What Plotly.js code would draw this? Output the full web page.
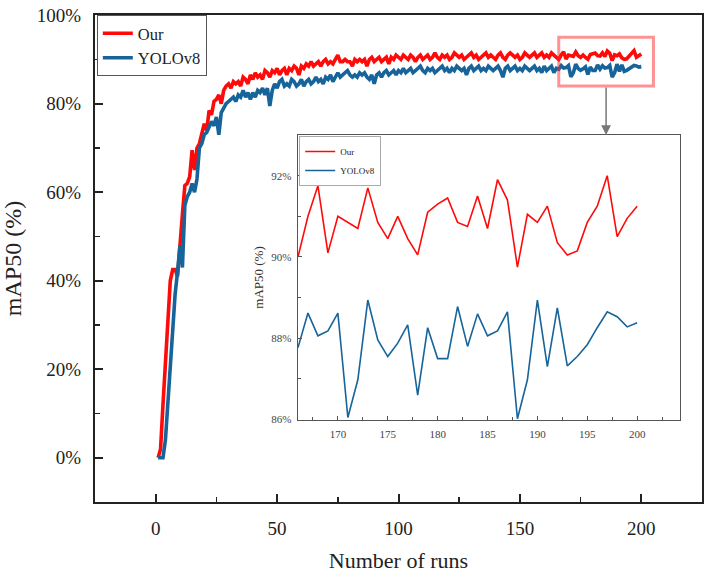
<!DOCTYPE html>
<html>
<head>
<meta charset="utf-8">
<script src="https://cdn.plot.ly/plotly-3.0.1.min.js"></script>
<style>
  html, body { margin: 0; padding: 0; background: #fff; }
  #chart { width: 710px; height: 573px; }
</style>
</head>
<body>
<div id="chart"></div>
<script>
// mAP50 (%) per training run, runs 1..200
const ourMap = [
  0, 2, 12, 22, 31, 40, 42.5, 42.5, 41, 49,
  55, 61.5, 62, 63.5, 69.5, 65, 70, 71, 73, 75.5,
  74, 78.5, 77.5, 80.5, 81, 82, 80, 83, 84, 84.5,
  83.5, 85, 84.5, 85, 84, 86, 85.5, 84.5, 86.5, 85.5,
  87, 86, 86.5, 85.5, 87.5, 87, 86, 87.5, 87, 88,
  86.5, 87.5, 88, 86.5, 88, 87.5, 88.5, 88, 86.5, 88.5,
  88, 89, 88.5, 89.5, 88.5, 89, 89.5, 88.5, 89.5, 90,
  89, 89.5, 89, 90, 91, 89.5, 89.5, 90, 89.5, 89.5,
  88.5, 90, 89.5, 90, 89.5, 90, 88.5, 90, 90.5, 89.5,
  90, 90.5, 89.5, 90, 90.5, 89, 90.5, 90, 91, 90.5,
  90, 91, 90.5, 90, 91, 90.5, 89.5, 90.5, 91, 90,
  90.5, 91, 90, 90.5, 91.5, 90.5, 90, 91, 90.5, 91,
  90, 90.5, 91.5, 91, 90.5, 91, 90, 90.5, 91, 91.5,
  90.5, 91, 90, 90.5, 91, 91.5, 90.5, 91, 90.5, 90,
  91, 91.5, 90.5, 90, 91, 91.5, 91, 90.5, 91, 90,
  90.5, 91.5, 91, 90.5, 91, 91.5, 90.5, 91, 91.5, 90.5,
  91, 90.5, 91.5, 91, 90.5,
  90.0, 91.0, 91.75, 90.1, 91.0, 90.85, 90.7, 91.7, 90.85, 90.45,
  91.0, 90.45, 90.05, 91.1, 91.3, 91.45, 90.85, 90.75, 91.5, 90.7,
  91.9, 91.4, 89.75, 91.05, 90.85, 91.25, 90.35, 90.05, 90.15, 90.85,
  91.25, 92.0, 90.5, 90.95, 91.25
];

const yoloMap = [
  0, 0, 0, 4, 13, 22, 29, 37, 42, 48,
  43, 57, 59, 60, 62, 60, 63, 70, 71, 73,
  73.5, 75, 76, 75, 77, 73, 78, 79, 80, 80.5,
  81, 81.5, 80.5, 82, 81.5, 83, 81.5, 82.5, 81, 82.5,
  81.5, 83, 82.5, 83.5, 82, 83.5, 79.5, 83, 84.5, 83.5,
  85, 85.5, 84, 84.5, 84, 85.5, 85, 84, 84.5, 85.5,
  84, 85, 85.5, 84.5, 85, 86, 85, 85.5, 84.5, 86,
  85.5, 86.5, 85, 86, 87, 86, 86.5, 87, 87.5, 86.5,
  86, 86.5, 86, 87, 86.5, 87, 86, 85.5, 86.5, 84.5,
  86.5, 87, 86, 87, 87.5, 86.5, 87, 87.5, 86.5, 87.5,
  87, 88, 87, 87.5, 88, 87, 87.5, 88, 88.5, 87.5,
  87, 88, 87.5, 88, 87, 87.5, 88, 88.5, 87.5, 88,
  87, 88, 87.5, 88.5, 88, 87.5, 88, 86.5, 88, 88.5,
  87.5, 88, 88.5, 87.5, 88, 87.5, 88.5, 88, 87.5, 88,
  88.5, 87.5, 86, 88, 88.5, 87.5, 88, 88.5, 87.5, 88,
  87.5, 88.5, 88, 87.5, 88, 88.5, 87.5, 88, 87, 88.5,
  87.5, 88, 88.5, 87, 88,
  87.77, 88.62, 88.06, 88.18, 88.62, 86.05, 86.98, 88.94, 87.96, 87.55,
  87.88, 88.33, 86.6, 88.26, 87.5, 87.5, 88.78, 87.8, 88.6, 88.06,
  88.18, 88.65, 86.02, 86.98, 88.94, 87.3, 88.75, 87.32, 87.55, 87.84,
  88.26, 88.65, 88.53, 88.28, 88.38
];

const seriesNames = ['Our', 'YOLOv8'];
const runs = ourMap.map((_, i) => i + 1);

// zoomed window shown in the inset
const zoomFirstRun = 166;
const zoomBox = { x: [166, 205], y: [84, 95] };

const RED = '#ff0a0a';
const BLUE = '#17649b';
const SERIF = 'Liberation Serif, Times New Roman, serif';

const mainX = [-25, 225];
const mainY = [-10, 100.05];
const insetDomX = [0.3344, 0.9638];
const insetDomY = [0.1684, 0.7536];

const zi = runs.indexOf(zoomFirstRun);

const traces = [
  { x: runs, y: ourMap, name: seriesNames[0], type: 'scatter', mode: 'lines',
    line: { color: RED, width: 3.6 }, xaxis: 'x', yaxis: 'y', legend: 'legend' },
  { x: runs, y: yoloMap, name: seriesNames[1], type: 'scatter', mode: 'lines',
    line: { color: BLUE, width: 3.6 }, xaxis: 'x', yaxis: 'y', legend: 'legend' },
  { x: runs.slice(zi), y: ourMap.slice(zi), name: seriesNames[0], type: 'scatter', mode: 'lines',
    line: { color: RED, width: 1.6 }, xaxis: 'x2', yaxis: 'y2', legend: 'legend2' },
  { x: runs.slice(zi), y: yoloMap.slice(zi), name: seriesNames[1], type: 'scatter', mode: 'lines',
    line: { color: BLUE, width: 1.6 }, xaxis: 'x2', yaxis: 'y2', legend: 'legend2' }
];

const mainAxis = {
  showline: true, linecolor: '#222', linewidth: 2, mirror: true,
  ticks: 'inside', ticklen: 8, tickwidth: 2, tickcolor: '#222',
  showgrid: false, zeroline: false,
  tickfont: { family: SERIF, size: 19, color: '#222' }
};

const insetAxis = {
  showline: true, linecolor: '#555', linewidth: 1.3, mirror: true,
  ticks: 'inside', ticklen: 4, tickwidth: 1, tickcolor: '#555',
  showgrid: false, zeroline: false,
  tickfont: { family: SERIF, size: 11, color: '#444' }
};

const layout = {
  width: 710, height: 573,
  margin: { l: 95, r: 8, t: 15, b: 71 },
  paper_bgcolor: '#fff', plot_bgcolor: '#fff',
  font: { family: SERIF },
  showlegend: true,
  xaxis: Object.assign({}, mainAxis, {
    domain: [0, 1], anchor: 'y', range: mainX, dtick: 50, tick0: 0,
    ticklabelstandoff: 8,
    minor: { ticks: 'inside', ticklen: 5, tickwidth: 1.5, tickcolor: '#222', dtick: 25, tick0: 0 },
    title: { text: 'Number of runs', font: { family: SERIF, size: 22, color: '#222' }, standoff: 18 }
  }),
  yaxis: Object.assign({}, mainAxis, {
    domain: [0, 1], anchor: 'x', range: mainY, dtick: 20, tick0: 0, ticksuffix: '%',
    ticklabelstandoff: 8,
    minor: { ticks: 'inside', ticklen: 5, tickwidth: 1.5, tickcolor: '#222', dtick: 10, tick0: 0 },
    title: { text: 'mAP50 (%)', font: { family: SERIF, size: 24, color: '#222' }, standoff: 10 }
  }),
  xaxis2: Object.assign({}, insetAxis, {
    domain: insetDomX, anchor: 'y2', range: [zoomFirstRun, 204.3], dtick: 5, tick0: 0,
    ticklabelstandoff: 4,
    minor: { ticks: 'inside', ticklen: 3, tickwidth: 1, tickcolor: '#555', dtick: 2.5, tick0: 0 }
  }),
  yaxis2: Object.assign({}, insetAxis, {
    domain: insetDomY, anchor: 'x2', range: [85.99, 93], dtick: 2, tick0: 0, ticksuffix: '%',
    ticklabelstandoff: 3,
    minor: { ticks: 'inside', ticklen: 3, tickwidth: 1, tickcolor: '#555', dtick: 1, tick0: 0 },
    title: { text: 'mAP50 (%)', font: { family: SERIF, size: 13, color: '#333' }, standoff: 4 }
  }),
  legend: {
    x: 0.003, y: 1, xanchor: 'left', yanchor: 'top',
    bgcolor: '#fff', bordercolor: '#555', borderwidth: 1,
    font: { family: SERIF, size: 16.5, color: '#222' },
    tracegroupgap: 0, itemwidth: 30
  },
  legend2: {
    x: insetDomX[0] + 0.002, y: insetDomY[1] - 0.002, xanchor: 'left', yanchor: 'top',
    bgcolor: '#fff', bordercolor: '#aaa', borderwidth: 1,
    font: { family: SERIF, size: 9, color: '#222' },
    tracegroupgap: 0, itemwidth: 30
  },
  shapes: [{
    type: 'rect', xref: 'x', yref: 'y',
    x0: zoomBox.x[0], x1: zoomBox.x[1], y0: zoomBox.y[0], y1: zoomBox.y[1],
    line: { color: 'rgba(255,40,40,0.5)', width: 3 }
  }],
  annotations: [{
    xref: 'x', yref: 'y', axref: 'x', ayref: 'y',
    x: (zoomBox.x[0] + zoomBox.x[1]) / 2,
    y: mainY[0] + insetDomY[1] * (mainY[1] - mainY[0]),
    ax: (zoomBox.x[0] + zoomBox.x[1]) / 2,
    ay: zoomBox.y[0],
    text: '', showarrow: true, arrowhead: 2, arrowsize: 1.3, arrowwidth: 1.5, arrowcolor: '#777'
  }]
};

Plotly.newPlot('chart', traces, layout, { displayModeBar: false, staticPlot: true });
</script>
</body>
</html>
